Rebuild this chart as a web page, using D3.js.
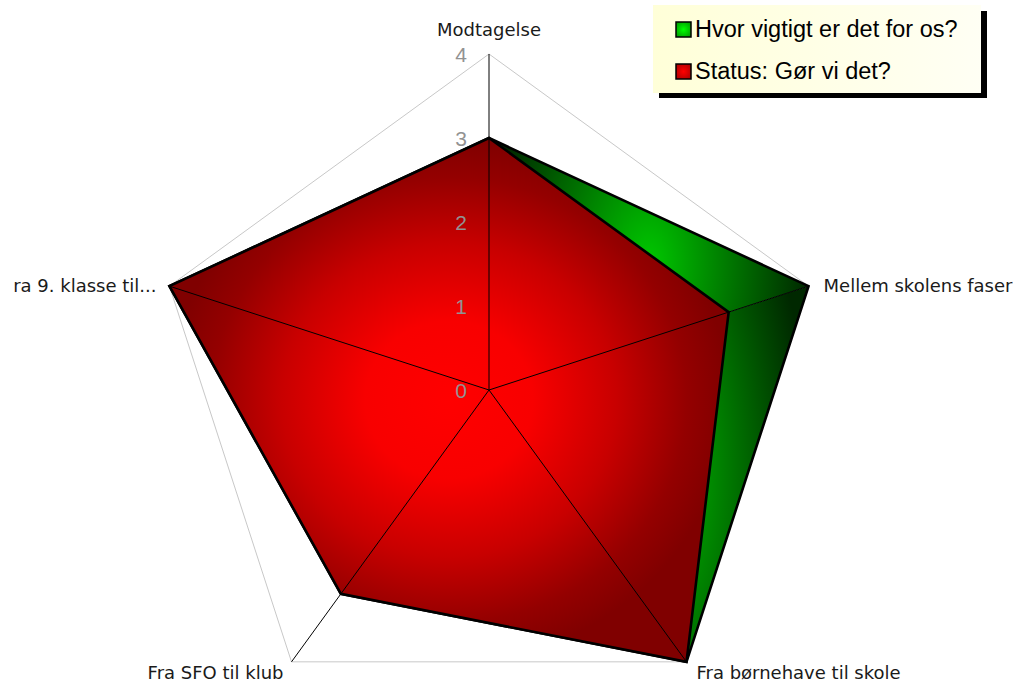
<!DOCTYPE html>
<html>
<head>
<meta charset="utf-8">
<script src="https://cdn.jsdelivr.net/npm/d3@7"></script>
<style>
  html, body { margin: 0; padding: 0; background: #ffffff; }
  svg { display: block; }
</style>
</head>
<body>
<svg id="chart" width="1013" height="682"></svg>
<script>
// ---- data ----
const axes = ["Modtagelse", "Mellem skolens faser", "Fra børnehave til skole", "Fra SFO til klub", "ra 9. klasse til..."];
const importance = [3, 4, 4, 3, 4];   // "Hvor vigtigt er det for os?"
const status = [3, 3, 4, 3, 4];       // "Status: Gør vi det?"
const tickValues = [0, 1, 2, 3, 4];
const seriesNames = ["Hvor vigtigt er det for os?", "Status: Gør vi det?"];

// ---- layout ----
const W = 1013, H = 682;
const cx = 489, cy = 390, R = 336;
const svg = d3.select("#chart");

const r = d3.scaleLinear().domain([0, 4]).range([0, R]);
const angle = d3.scaleLinear().domain([0, axes.length]).range([-Math.PI / 2, 1.5 * Math.PI]);
const pt = (i, v) => [cx + r(v) * Math.cos(angle(i)), cy + r(v) * Math.sin(angle(i))];

// ---- gradients ----
const defs = svg.append("defs");
const gRed = defs.append("radialGradient").attr("id", "gRed")
  .attr("cx", 0.5).attr("cy", 0.5).attr("r", 0.5);
[[0, "#ff0000"], [0.3, "#f80000"], [0.6, "#c80000"], [0.85, "#940000"], [1, "#800000"]]
  .forEach(([o, c]) => gRed.append("stop").attr("offset", o).attr("stop-color", c));
const gGreen = defs.append("radialGradient").attr("id", "gGreen")
  .attr("cx", 0.5).attr("cy", 0.5).attr("r", 0.5)
  .attr("gradientTransform", "translate(0.5,0.5) scale(1,2) translate(-0.5,-0.5)");
[[0, "#00c800"], [1, "#002800"]]
  .forEach(([o, c]) => gGreen.append("stop").attr("offset", o).attr("stop-color", c));
const gLegG = defs.append("radialGradient").attr("id", "gLegG").attr("r", 0.6);
[[0, "#00ff00"], [1, "#00a000"]].forEach(([o, c]) => gLegG.append("stop").attr("offset", o).attr("stop-color", c));
const gLegR = defs.append("radialGradient").attr("id", "gLegR").attr("r", 0.6);
[[0, "#ff0000"], [1, "#b00000"]].forEach(([o, c]) => gLegR.append("stop").attr("offset", o).attr("stop-color", c));
const gLegBg = defs.append("linearGradient").attr("id", "gLegBg");
[[0, "#ffffd8"], [1, "#fffff4"]].forEach(([o, c]) => gLegBg.append("stop").attr("offset", o).attr("stop-color", c));

const line = d3.line().curve(d3.curveLinearClosed);

// ---- outer grid ----
svg.append("path")
  .attr("d", line(axes.map((d, i) => pt(i, tickValues[tickValues.length - 1]))))
  .attr("fill", "none").attr("stroke", "#c8c8c8").attr("stroke-width", 1);

// ---- green series (drawn as segments) ----
const gGrp = svg.append("g");
axes.forEach((d, i) => {
  const j = (i + 1) % axes.length;
  gGrp.append("path")
    .attr("d", line([[cx, cy], pt(i, importance[i]), pt(j, importance[j])]))
    .attr("fill", "url(#gGreen)").attr("stroke", "none");
});
svg.append("path")
  .attr("d", line(importance.map((v, i) => pt(i, v))))
  .attr("fill", "none").attr("stroke", "#000").attr("stroke-width", 2.6).attr("stroke-linejoin", "miter");

// ---- red series ----
svg.append("path")
  .attr("d", line(status.map((v, i) => pt(i, v))))
  .attr("fill", "url(#gRed)").attr("stroke", "#000").attr("stroke-width", 2.6).attr("stroke-linejoin", "miter");

// ---- spokes ----
svg.append("g").selectAll("line").data(axes).join("line")
  .attr("x1", cx).attr("y1", cy)
  .attr("x2", (d, i) => pt(i, 4)[0]).attr("y2", (d, i) => pt(i, 4)[1])
  .attr("stroke", "#000").attr("stroke-width", 1);

// ---- tick labels ----
svg.append("g").selectAll("text").data(tickValues).join("text")
  .attr("x", cx - 22).attr("y", d => cy - r(d))
  .attr("dy", "0.36em")
  .attr("text-anchor", "end")
  .attr("font-family", "Liberation Sans, Arial, sans-serif")
  .attr("font-size", 21).attr("fill", "#929292")
  .text(d => d);

// ---- axis labels ----
const labelPos = [
  { dx: 0, dy: -18, anchor: "middle" },
  { dx: 15, dy: 6, anchor: "start" },
  { dx: 10, dy: 17, anchor: "start" },
  { dx: -8, dy: 17, anchor: "end" },
  { dx: -13, dy: 6, anchor: "end" }
];
svg.append("g").selectAll("text").data(axes).join("text")
  .attr("x", (d, i) => pt(i, 4)[0] + labelPos[i].dx)
  .attr("y", (d, i) => pt(i, 4)[1] + labelPos[i].dy)
  .attr("text-anchor", (d, i) => labelPos[i].anchor)
  .attr("font-family", "DejaVu Sans, Verdana, sans-serif")
  .attr("font-size", 18).attr("fill", "#1a1a1a")
  .text(d => d);

// ---- legend ----
const lg = svg.append("g");
lg.append("rect").attr("x", 659).attr("y", 11).attr("width", 328).attr("height", 87).attr("fill", "#000");
lg.append("rect").attr("x", 653).attr("y", 5).attr("width", 328).attr("height", 88).attr("fill", "url(#gLegBg)");
const legFills = ["url(#gLegG)", "url(#gLegR)"];
seriesNames.forEach((name, k) => {
  const y0 = 37 + k * 42;
  lg.append("rect").attr("x", 676).attr("y", y0 - 15).attr("width", 15).attr("height", 15)
    .attr("fill", legFills[k]).attr("stroke", "#000").attr("stroke-width", 1.5);
  lg.append("text").attr("x", 695).attr("y", y0)
    .attr("font-family", "Liberation Sans, Arial, sans-serif")
    .attr("font-size", 23.5).attr("fill", "#000").text(name);
});
</script>
</body>
</html>
